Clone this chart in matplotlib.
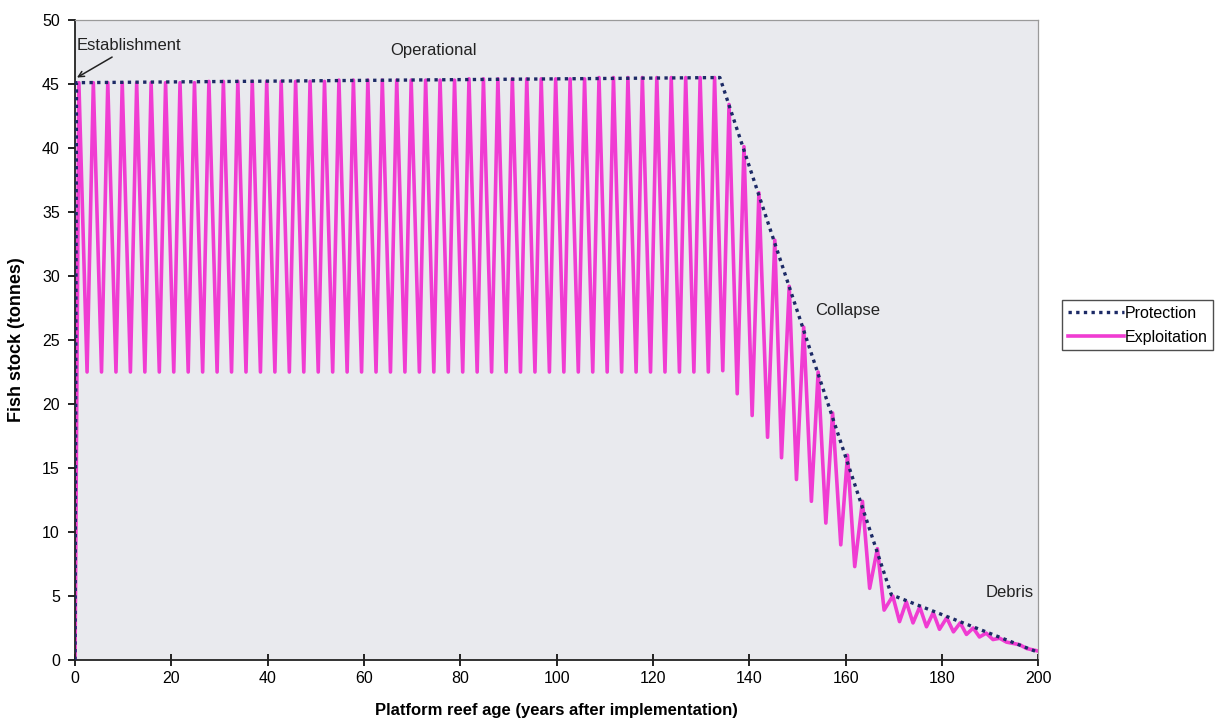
import matplotlib
matplotlib.use("Agg")
import matplotlib.pyplot as plt

plt.rcParams['font.family'] = ['Liberation Sans', 'DejaVu Sans']

# Protection scenario (no fishing)
prot_years = [0, 0.3, 133.9, 169.5, 200]
prot_vals = [0, 45.1, 45.5, 5.1, 0.6]

# Exploitation scenario: peaks (before harvest) and troughs (after harvest)
peak_years = [0.8, 3.8, 6.8, 9.8, 12.8, 15.8, 18.8, 21.8, 24.8, 27.8,
              30.8, 33.8, 36.8, 39.8, 42.8, 45.8, 48.8, 51.8, 54.8, 57.8,
              60.8, 63.8, 66.8, 69.8, 72.8, 75.8, 78.8, 81.8, 84.8, 87.8,
              90.8, 93.8, 96.8, 99.8, 102.8, 105.8, 108.8, 111.8, 114.8, 117.8,
              120.8, 123.8, 126.8, 129.8, 132.8,
              135.8, 138.9, 142.0, 145.3, 148.3, 151.3, 154.3, 157.3, 160.4, 163.5,
              166.6, 169.8,
              172.6, 175.4, 178.2, 181.0, 183.8, 186.5, 189.2, 192.0, 194.8, 197.6]
peak_vals = [45.1, 45.1, 45.1, 45.1, 45.1, 45.1, 45.1, 45.1, 45.1, 45.2,
             45.2, 45.2, 45.2, 45.2, 45.2, 45.2, 45.2, 45.2, 45.3, 45.3,
             45.3, 45.3, 45.3, 45.3, 45.3, 45.3, 45.3, 45.4, 45.4, 45.4,
             45.4, 45.4, 45.4, 45.4, 45.4, 45.4, 45.5, 45.5, 45.5, 45.5,
             45.5, 45.5, 45.5, 45.5, 45.5,
             43.4, 40.1, 36.5, 32.8, 29.2, 26.0, 22.5, 19.3, 16.0, 12.4,
             8.7, 5.0,
             4.55, 4.15, 3.7, 3.3, 2.9, 2.5, 2.1, 1.7, 1.3, 0.9]

trough_years = [0, 2.5, 5.5, 8.5, 11.5, 14.5, 17.5, 20.5, 23.5, 26.5, 29.5,
                32.5, 35.5, 38.5, 41.5, 44.5, 47.5, 50.5, 53.5, 56.5, 59.5,
                62.5, 65.5, 68.5, 71.5, 74.5, 77.5, 80.5, 83.5, 86.5, 89.5,
                92.5, 95.5, 98.5, 101.5, 104.5, 107.5, 110.5, 113.5, 116.5, 119.5,
                122.5, 125.5, 128.5, 131.5, 134.5,
                137.5, 140.6, 143.8, 146.7, 149.8, 152.9, 155.9, 159.0, 161.9, 165.0,
                168.0,
                171.2, 174.0, 176.8, 179.5, 182.4, 185.1, 187.8, 190.6, 193.4, 196.1,
                200]
trough_vals = [0, 22.5, 22.5, 22.5, 22.5, 22.5, 22.5, 22.5, 22.5, 22.5, 22.5,
               22.5, 22.5, 22.5, 22.5, 22.5, 22.5, 22.5, 22.5, 22.5, 22.5,
               22.5, 22.5, 22.5, 22.5, 22.5, 22.5, 22.5, 22.5, 22.5, 22.5,
               22.5, 22.5, 22.5, 22.5, 22.5, 22.5, 22.5, 22.5, 22.5, 22.5,
               22.5, 22.5, 22.5, 22.5, 22.6,
               20.8, 19.1, 17.4, 15.8, 14.1, 12.4, 10.7, 9.0, 7.3, 5.6,
               3.9,
               3.0, 2.9, 2.6, 2.4, 2.2, 2.0, 1.8, 1.6, 1.4, 1.2,
               0.7]

# merge peaks and troughs into one time series
pts = sorted(zip(peak_years + trough_years, peak_vals + trough_vals))
expl_years = [p[0] for p in pts]
expl_vals = [p[1] for p in pts]

fig = plt.figure(figsize=(12.2, 7.2), dpi=100)
ax = fig.add_axes([0.0615, 0.0833, 0.7895, 0.889])
ax.set_facecolor('#e9eaee')

ax.plot(expl_years, expl_vals, color='#f03cd2', lw=2.6, label='Exploitation',
        zorder=2)
ax.plot(prot_years, prot_vals, color='#1c2a66', lw=2.4, linestyle=(0, (1, 1.3)),
        label='Protection', zorder=3)

ax.set_xlim(0, 200)
ax.set_ylim(0, 50)
ax.set_xticks(range(0, 201, 20))
ax.set_yticks(range(0, 51, 5))
ax.tick_params(axis='x', direction='inout', length=8, width=1.2, labelsize=11.5, pad=4)
ax.tick_params(axis='y', direction='out', length=5, width=1.2, labelsize=11.5, pad=6)

for s in ['left', 'bottom']:
    ax.spines[s].set_color('#222222')
    ax.spines[s].set_linewidth(1.3)
for s in ['top', 'right']:
    ax.spines[s].set_color('#9a9a9a')
    ax.spines[s].set_linewidth(0.9)

ax.set_xlabel('Platform reef age (years after implementation)', fontsize=12,
              fontweight='bold', labelpad=12)
ax.set_ylabel('Fish stock (tonnes)', fontsize=13, fontweight='bold', labelpad=12)

ax.text(0.3, 48.0, 'Establishment', fontsize=12, ha='left', va='center', color='#222222')
ax.annotate('', xy=(0.4, 45.5), xytext=(7.7, 47.1),
            arrowprops=dict(arrowstyle='->', color='#222222', lw=1.1,
                            shrinkA=0, shrinkB=0))
ax.text(74.5, 47.6, 'Operational', fontsize=12, ha='center', va='center', color='#222222')
ax.text(160.5, 27.3, 'Collapse', fontsize=12, ha='center', va='center', color='#222222')
ax.text(194, 5.3, 'Debris', fontsize=12, ha='center', va='center', color='#222222')

handles, labels = ax.get_legend_handles_labels()
leg = fig.legend(handles[::-1], labels[::-1], loc='upper left',
                 bbox_to_anchor=(0.8705, 0.583), borderaxespad=0,
                 fontsize=11.5, fancybox=False,
                 frameon=True, edgecolor='#222222', handlelength=3.5,
                 handletextpad=0.05, borderpad=0.35, labelspacing=0.55)
leg.get_frame().set_linewidth(1.0)

fig.savefig('out.png', dpi=100, facecolor='white')
